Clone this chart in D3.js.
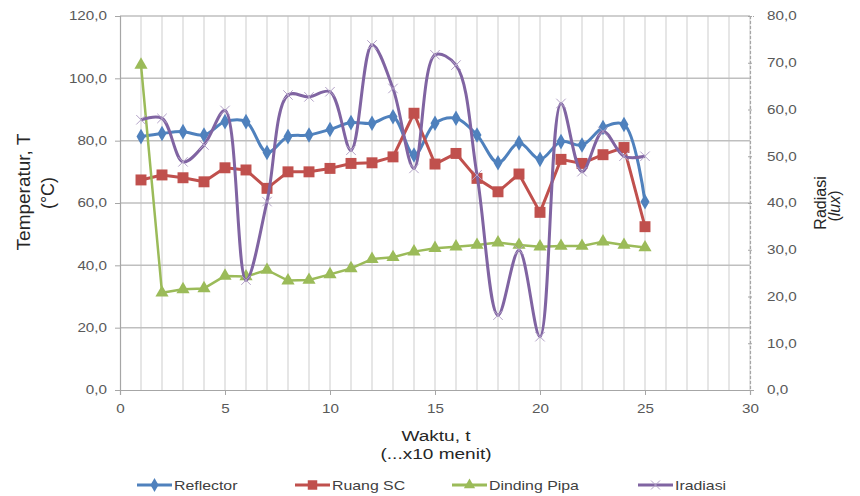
<!DOCTYPE html>
<html>
<head>
<meta charset="utf-8">
<script src="https://cdn.jsdelivr.net/npm/d3@7"></script>
<style>
  body { margin: 0; background: #fff; }
  svg { font-family: "Liberation Sans", Arial, sans-serif; }
</style>
</head>
<body>
<svg id="drawing_region"></svg>
<script>
// waktu (x10 menit)
const waktu = d3.range(1, 26);
const reflector = [81.3, 82.3, 82.9, 81.8, 86.1, 86.1, 76.2, 81.3, 81.8, 83.6, 85.8, 85.6, 87.7, 75.4,
                   85.6, 87.2, 81.8, 72.9, 79.3, 74.0, 79.7, 78.6, 84.2, 85.2, 60.4];
const ruangSC = [67.4, 69.0, 68.1, 66.8, 71.3, 70.6, 64.7, 70.0, 70.0, 71.1, 72.7, 72.9, 74.8, 88.8,
                 72.5, 75.9, 67.9, 63.6, 69.3, 57.0, 74.0, 72.7, 75.5, 77.8, 52.4];
const dindingPipa = [104.3, 31.2, 32.3, 32.6, 36.6, 36.4, 38.5, 35.1, 35.3, 37.1, 39.0, 42.0, 42.6, 44.4,
                     45.5, 46.0, 46.5, 47.3, 46.5, 46.0, 46.2, 46.2, 47.6, 46.5, 45.7];
const iradiasi = [57.8, 58.1, 48.8, 52.4, 59.8, 23.5, 40.3, 63.1, 62.7, 63.8, 51.3, 73.8, 64.5, 47.4,
                  71.7, 69.5, 46.0, 16.0, 29.9, 11.4, 61.3, 46.7, 55.3, 50.0, 50.0];

const xTicks = [0, 5, 10, 15, 20, 25, 30];
const yLeftTicks = [0, 20, 40, 60, 80, 100, 120];
const yRightTicks = [0, 10, 20, 30, 40, 50, 60, 70, 80];

const series = [
  { name: 'Reflector',    values: reflector,   color: '#4F81BD', marker: 'diamond',  axis: 'left',  smooth: true },
  { name: 'Ruang SC',     values: ruangSC,     color: '#C0504D', marker: 'square',   axis: 'left',  smooth: false },
  { name: 'Dinding Pipa', values: dindingPipa, color: '#9BBB59', marker: 'triangle', axis: 'left',  smooth: false },
  { name: 'Iradiasi',     values: iradiasi,    color: '#8064A2', marker: 'cross',    axis: 'right', smooth: true }
];

const width = 860, height = 496;
const margin = { top: 16, right: 110, bottom: 106, left: 120 };
const inner_width = width - margin.left - margin.right;
const inner_height = height - margin.top - margin.bottom;
const stretch = 1.27;   // the picture's text is a bit wide

const svg = d3.select('#drawing_region')
    .attr('width', width)
    .attr('height', height);

const chart = svg.append('g')
    .attr('transform', `translate(${margin.left}, ${margin.top})`);

const xscale = d3.scaleLinear().domain([0, 30]).range([0, inner_width]);
const yscale = d3.scaleLinear().domain([0, 120]).range([inner_height, 0]);
const y2scale = d3.scaleLinear().domain([0, 80]).range([inner_height, 0]);

// minor vertical gridlines
chart.append('g')
    .selectAll('line')
    .data(d3.range(1, 31))
    .enter()
    .append('line')
    .attr('x1', d => xscale(d)).attr('x2', d => xscale(d))
    .attr('y1', 0).attr('y2', inner_height)
    .attr('stroke', '#d9d9d9')
    .attr('stroke-width', 1.3);

// major horizontal gridlines
chart.append('g')
    .selectAll('line')
    .data(yLeftTicks.slice(1))
    .enter()
    .append('line')
    .attr('x1', 0).attr('x2', inner_width)
    .attr('y1', d => yscale(d)).attr('y2', d => yscale(d))
    .attr('stroke', '#bfbfbf')
    .attr('stroke-width', 1.5);

// axes
const fmt = d => d3.format('.1f')(d).replace('.', ',');
const xaxis = d3.axisBottom(xscale).tickValues(xTicks).tickSize(5).tickPadding(9).tickFormat(d3.format('d'));
const yaxis = d3.axisLeft(yscale).tickValues(yLeftTicks).tickSize(5).tickFormat(fmt);
const y2axis = d3.axisRight(y2scale).tickValues(yRightTicks).tickSize(4).tickFormat(fmt);

function styleAxis(g, dashed) {
  g.select('.domain').attr('stroke', '#a6a6a6').attr('stroke-width', 1.2)
    .attr('stroke-dasharray', dashed ? '3,2' : null);
  g.selectAll('.tick line').attr('stroke', '#a6a6a6');
  g.selectAll('.tick text').attr('fill', '#595959').style('font-size', '12px')
    .style('font-family', '"Liberation Sans", Arial, sans-serif');
}

chart.append('g')
    .attr('transform', `translate(0, ${inner_height})`)
    .call(xaxis)
    .call(g => styleAxis(g, false))
    .call(g => g.selectAll('.tick text').attr('transform', `scale(${stretch},1)`));

chart.append('g')
    .call(yaxis)
    .call(g => styleAxis(g, false))
    .call(g => g.selectAll('.tick text').attr('x', -13 / stretch).attr('transform', `scale(${stretch},1)`));

chart.append('g')
    .attr('transform', `translate(${inner_width}, 0)`)
    .call(y2axis)
    .call(g => styleAxis(g, true))
    .call(g => g.selectAll('.tick line').attr('x1', -2).attr('x2', 2))
    .call(g => g.selectAll('.tick text').attr('x', 17 / stretch).attr('transform', `scale(${stretch},1)`));

// lines
series.forEach(s => {
  const ys = s.axis === 'left' ? yscale : y2scale;
  const line = d3.line()
      .x((d, i) => xscale(waktu[i]))
      .y(d => ys(d))
      .curve(s.smooth ? d3.curveCatmullRom.alpha(0.5) : d3.curveLinear);

  chart.append('path')
      .datum(s.values)
      .attr('fill', 'none')
      .attr('stroke', s.color)
      .attr('stroke-width', s.name === 'Dinding Pipa' ? 2.5 : 3)
      .attr('stroke-linejoin', 'round')
      .attr('d', line);

  drawMarkers(chart, s.values.map((d, i) => [xscale(waktu[i]), ys(d)]), s);
});

function markerPath(type, size) {
  if (type === 'diamond') return d3.symbol(d3.symbolDiamond, size)();
  if (type === 'square') return d3.symbol(d3.symbolSquare, size)();
  if (type === 'triangle') return d3.symbol(d3.symbolTriangle, size)();
  return d3.symbol(d3.symbolX, size)();
}

function drawMarkers(g, pts, s) {
  const sizes = { diamond: 70, square: 120, triangle: 75, cross: 60 };
  const m = g.append('g');
  m.selectAll('path')
      .data(pts)
      .enter()
      .append('path')
      .attr('transform', d => `translate(${d[0]}, ${d[1]})`)
      .attr('d', markerPath(s.marker, sizes[s.marker]))
      .attr('fill', s.marker === 'cross' ? 'none' : s.color)
      .attr('stroke', s.marker === 'cross' ? '#b3a2c7' : 'none')
      .attr('stroke-width', 1);
}

// axis titles
svg.append('text')
    .attr('text-anchor', 'middle')
    .attr('transform', `translate(30, 192) rotate(-90)`)
    .style('font-size', '19px').attr('fill', '#262626')
    .text('Temperatur, T');
svg.append('text')
    .attr('text-anchor', 'middle')
    .attr('transform', `translate(54, 193) rotate(-90)`)
    .style('font-size', '18px').attr('fill', '#262626')
    .text('(°C)');

svg.append('text')
    .attr('text-anchor', 'middle')
    .attr('transform', `translate(826, 203) rotate(-90)`)
    .style('font-size', '16px').attr('fill', '#262626')
    .text('Radiasi');
const lux = svg.append('text')
    .attr('text-anchor', 'middle')
    .attr('transform', `translate(840, 206) rotate(-90)`)
    .style('font-size', '16px').attr('fill', '#262626');
lux.append('tspan').text('(');
lux.append('tspan').style('font-style', 'italic').text('lux');
lux.append('tspan').text(')');

svg.append('text')
    .attr('text-anchor', 'middle')
    .attr('transform', `translate(436, 441) scale(${stretch},1)`)
    .style('font-size', '15px').attr('fill', '#262626')
    .text('Waktu, t');
svg.append('text')
    .attr('text-anchor', 'middle')
    .attr('transform', `translate(436, 459) scale(${stretch},1)`)
    .style('font-size', '15px').attr('fill', '#262626')
    .text('(...x10 menit)');

// legend
const legendX = [137, 295, 452, 638];
const legend = svg.append('g');
series.forEach((s, i) => {
  const lg = legend.append('g').attr('transform', `translate(${legendX[i]}, 485)`);
  lg.append('line')
      .attr('x1', 0).attr('x2', 35)
      .attr('stroke', s.color).attr('stroke-width', 3);
  lg.append('path')
      .attr('transform', 'translate(17.5, 0)')
      .attr('d', markerPath(s.marker, s.marker === 'square' ? 90 : 55))
      .attr('fill', s.marker === 'cross' ? 'none' : s.color)
      .attr('stroke', s.marker === 'cross' ? '#b3a2c7' : 'none');
  lg.append('text')
      .attr('transform', `translate(37, 4.5) scale(${stretch},1)`)
      .style('font-size', '12.5px').attr('fill', '#404040')
      .text(s.name);
});
</script>
</body>
</html>
